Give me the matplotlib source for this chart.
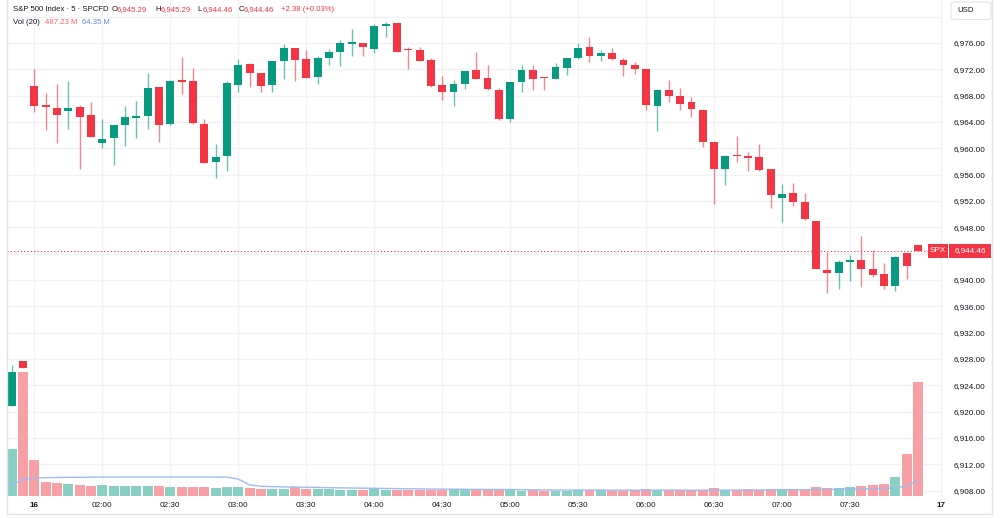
import matplotlib.pyplot as plt
import numpy as np
import pandas as pd
from matplotlib.patches import Rectangle, FancyBboxPatch

plt.rcParams['font.family'] = ['Liberation Sans', 'DejaVu Sans']

# 5-minute OHLC bars, S&P 500 (SPCFD)
opens = [6920.8, 6927.7, 6969.4, 6966.6, 6966.2, 6965.6, 6966.3, 6965.1, 6960.8, 6961.5,
         6963.5, 6964.6, 6964.9, 6969.3, 6963.7, 6970.4, 6970.2, 6963.7, 6957.9, 6958.9,
         6969.6, 6972.8, 6971.5, 6969.6, 6973.2, 6975.2, 6973.5, 6970.8, 6973.7, 6974.7,
         6975.8, 6976.05, 6975.1, 6978.6, 6979.0, 6975.0, 6975.0, 6973.4, 6969.6, 6968.5,
         6969.8, 6971.9, 6970.7, 6968.9, 6964.5, 6970.1, 6971.9, 6970.75, 6970.6, 6972.2,
         6973.7, 6975.4, 6974.0, 6974.5, 6973.4, 6972.7, 6972.1, 6966.4, 6968.9, 6967.9,
         6967.0, 6965.8, 6960.9, 6956.9, 6958.95, 6958.9, 6958.7, 6956.8, 6952.5, 6953.2,
         6951.8, 6949.0, 6941.5, 6941.0, 6942.7, 6943.1, 6941.7, 6940.9, 6939.1, 6944.1,
         6945.29]
highs = [6927.1, 6927.7, 6972.05, 6968.4, 6969.7, 6970.3, 6966.6, 6967.0, 6964.5, 6963.5,
         6966.4, 6967.2, 6971.5, 6969.3, 6970.4, 6973.8, 6972.2, 6964.5, 6960.7, 6970.2,
         6973.5, 6973.0, 6971.5, 6973.3, 6975.8, 6975.2, 6974.9, 6974.1, 6975.1, 6976.5,
         6978.1, 6976.05, 6978.9, 6979.2, 6979.0, 6975.4, 6975.4, 6973.7, 6971.0, 6970.4,
         6971.8, 6974.7, 6972.6, 6969.1, 6970.1, 6972.6, 6972.6, 6970.8, 6973.0, 6973.7,
         6976.0, 6976.9, 6975.0, 6975.3, 6973.7, 6973.1, 6972.1, 6969.0, 6970.4, 6969.2,
         6967.8, 6966.0, 6960.9, 6959.0, 6961.9, 6959.4, 6960.7, 6956.8, 6954.6, 6954.7,
         6953.2, 6949.0, 6944.3, 6943.0, 6943.8, 6946.7, 6944.6, 6942.6, 6943.7, 6944.1,
         6945.29]
lows = [6920.8, 6926.6, 6965.5, 6962.8, 6960.8, 6962.9, 6956.8, 6961.7, 6960.0, 6957.5,
        6960.3, 6961.5, 6962.9, 6961.0, 6963.6, 6968.2, 6963.7, 6957.8, 6955.5, 6956.5,
        6968.5, 6969.3, 6968.5, 6968.5, 6970.6, 6970.3, 6970.7, 6969.7, 6972.6, 6972.5,
        6974.0, 6974.0, 6974.5, 6976.9, 6974.6, 6972.0, 6973.3, 6969.3, 6967.3, 6966.5,
        6969.0, 6970.5, 6968.9, 6964.3, 6964.0, 6968.5, 6968.8, 6968.8, 6970.6, 6971.1,
        6973.5, 6973.1, 6973.2, 6973.4, 6971.0, 6971.3, 6965.8, 6962.7, 6967.0, 6965.8,
        6964.7, 6960.2, 6951.6, 6954.4, 6958.0, 6956.5, 6956.5, 6951.0, 6948.8, 6951.2,
        6949.1, 6941.6, 6938.0, 6938.7, 6939.9, 6938.9, 6940.4, 6938.6, 6938.4, 6940.1,
        6944.46]
closes = [6926.1, 6926.6, 6966.4, 6966.3, 6965.1, 6966.1, 6964.8, 6961.7, 6961.4, 6963.5,
          6964.7, 6964.9, 6969.2, 6963.6, 6970.3, 6970.1, 6963.8, 6957.8, 6958.7, 6969.9,
          6972.7, 6971.4, 6969.5, 6973.2, 6975.2, 6973.4, 6970.7, 6973.7, 6974.7, 6976.0,
          6976.1, 6975.4, 6978.6, 6978.9, 6974.7, 6974.95, 6973.3, 6969.4, 6968.5, 6969.8,
          6971.8, 6970.6, 6969.0, 6964.4, 6970.0, 6971.9, 6970.6, 6970.7, 6972.3, 6973.7,
          6975.2, 6974.0, 6974.5, 6973.5, 6972.6, 6972.1, 6966.6, 6968.8, 6967.9, 6966.8,
          6965.9, 6961.0, 6956.9, 6958.9, 6958.9, 6958.6, 6956.7, 6952.9, 6953.1, 6951.8,
          6949.2, 6941.6, 6941.1, 6942.7, 6943.1, 6941.6, 6940.8, 6939.1, 6943.5, 6942.08,
          6944.46]
# volume in millions
volumes = [201, 533, 152, 59, 54, 49, 44, 41, 44, 41, 39, 39, 39, 40, 36, 35, 35, 35, 32, 36,
           35, 32, 29, 29, 29, 36, 29, 26, 26, 24, 24, 24, 29, 24, 24, 23, 23, 23, 23, 30,
           25, 25, 23, 23, 25, 20, 23, 20, 20, 20, 25, 23, 23, 21, 21, 24, 27, 25, 23, 23,
           23, 25, 31, 25, 25, 27, 22, 27, 27, 27, 30, 35, 32, 32, 38, 41, 44, 51, 79.77, 181,
           487.23]
# bars of the previous session, needed for the 20-bar average at the left edge
vol_prev = [36, 38, 37, 35, 39, 36, 38, 37, 36, 38, 37, 35, 38, 37, 36, 39, 37, 36, 38, 37]

time_ticks = [2, 8, 14, 20, 26, 32, 38, 44, 50, 56, 62, 68, 74, 82]
time_labels = ['16', '02:00', '02:30', '03:00', '03:30', '04:00', '04:30', '05:00',
               '05:30', '06:00', '06:30', '07:00', '07:30', '17']
price_ticks = list(range(6908, 6984, 4))

UP = '#089981'
DOWN = '#F23645'
VUP = '#8ACFC3'
VDOWN = '#F7A0A6'
TXT = '#131722'
GRID = '#F0F2F6'

W, H = 1000, 518
fig = plt.figure(figsize=(10, 5.18), dpi=100)
ax = fig.add_axes([7 / W, 1 - 495.5 / H, (943 - 7) / W, 495.5 / H])
ax.set_xlim(-0.41, 82.2)
ax.set_ylim(6907.27, 6982.53)

o = np.array(opens)
c = np.array(closes)
h = np.array(highs)
l = np.array(lows)
idx = np.arange(len(c))
up = c >= o
cols = np.where(up, UP, DOWN)

# volume pane (twinx resets the price axis ticks to the left, so it comes first)
axv = ax.twinx()
axv.set_ylim(0, 495.5 / 0.232)
axv.set_yticks([])
for s in axv.spines.values():
    s.set_visible(False)
axv.bar(idx, volumes, width=0.88, color=np.where(up, VUP, VDOWN), lw=0)
full = pd.Series(vol_prev + volumes, dtype=float)
ma = full.rolling(20).mean().iloc[len(vol_prev) - 1:]
axv.plot(np.arange(-1, len(volumes)), ma.values, color='#9FBBF3', lw=1)

# grid and scales
ax.set_yticks(price_ticks)
ax.set_yticklabels(['' if (p in (6944, 6980)) else f'{p:,.2f}' for p in price_ticks])
ax.set_xticks(time_ticks)
ax.set_xticklabels(time_labels)
ax.grid(True, color=GRID, lw=1)
ax.set_axisbelow(True)
ax.yaxis.tick_right()
ax.tick_params(axis='y', length=0, labelsize=5.9, labelcolor=TXT, pad=8,
               left=False, labelleft=False, right=False, labelright=True)
ax.tick_params(axis='x', length=0, labelsize=5.9, labelcolor=TXT, pad=4.5)
for t in ax.get_xticklabels():
    if t.get_text() in ('16', '17'):
        t.set_fontweight('bold')
for s in ax.spines.values():
    s.set_visible(False)

# candles
ax.vlines(idx, l, h, colors=cols, lw=1, alpha=0.6, zorder=2)
ax.bar(idx, np.maximum(np.abs(c - o), 0.15), bottom=np.minimum(o, c), width=0.7,
       color=cols, lw=0, zorder=3)

# last price line
ax.axhline(c[-1], color=DOWN, lw=0.8, ls=(0, (1, 2)), zorder=1)

# frame
for xs, ys in [((7, 7), (0, 514)), ((7, 992), (514, 514)), ((992, 992), (0, 514))]:
    fig.add_artist(plt.Line2D([x / W for x in xs], [1 - y / H for y in ys],
                              color='#E0E3EB', lw=1, transform=fig.transFigure))

# last price labels on the scale
y_last = ax.transData.transform((0, c[-1]))[1]
fig.add_artist(Rectangle((928 / W, (y_last - 7) / H), 20 / W, 14 / H,
                         transform=fig.transFigure, fc=DOWN, ec='none'))
fig.add_artist(Rectangle((949 / W, (y_last - 7) / H), 42 / W, 14 / H,
                         transform=fig.transFigure, fc=DOWN, ec='none'))
fig.text(938 / W, y_last / H, 'SPX', color='white', fontsize=5.9, ha='center', va='center')
fig.text(970 / W, y_last / H, f'{c[-1]:,.2f}', color='white', fontsize=5.9,
         ha='center', va='center')

# currency button
fig.add_artist(FancyBboxPatch((951 / W, 1 - 19.5 / H), 40 / W, 17.5 / H,
                              boxstyle='round,pad=0,rounding_size=0.004',
                              transform=fig.transFigure, fc='white', ec='#E0E3EB', lw=0.8))
fig.text(957 / W, 1 - 11 / H, 'USD', color=TXT, fontsize=5.6, va='center')

# legend header
y1 = 1 - 9.5 / H
y2 = 1 - 22.5 / H
fs = 5.6
fig.text(12.7 / W, y1, 'S&P 500 Index · 5 · SPCFD', color=TXT, fontsize=fs, va='center')
for xl, lab, xv, val in [(111.7, 'O', 117, opens[-1]), (155, 'H', 160.7, highs[-1]),
                         (197.7, 'L', 202.7, lows[-1]), (238.7, 'C', 243.7, closes[-1])]:
    fig.text(xl / W, y1, lab, color=TXT, fontsize=fs, va='center')
    fig.text(xv / W, y1, f'{val:,.2f}', color=DOWN, fontsize=fs, va='center')
chg = closes[-1] - closes[-2]
fig.text(280.7 / W, y1, f'{chg:+.2f} ({chg / closes[-2] * 100:+.2f}%)', color=DOWN,
         fontsize=fs, va='center')
fig.text(12.7 / W, y2, 'Vol (20)', color=TXT, fontsize=fs, va='center')
fig.text(45 / W, y2, f'{volumes[-1]:.2f} M', color='#F0616D', fontsize=fs, va='center')
fig.text(82 / W, y2, f'{ma.values[-1]:.2f} M', color='#5A8BEA', fontsize=fs, va='center')

fig.savefig('out.png', dpi=100)
